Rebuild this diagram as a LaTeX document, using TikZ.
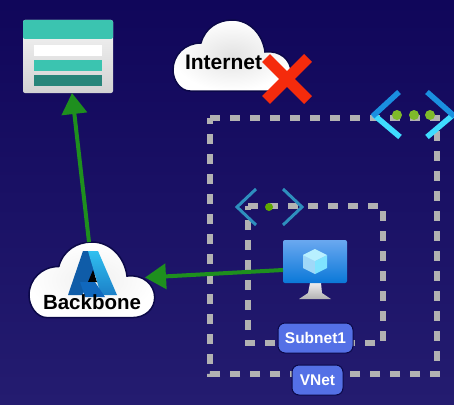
\documentclass[tikz,border=0pt]{standalone}
\usepackage{fontspec}
\setmainfont{Liberation Sans}
\usetikzlibrary{arrows.meta,calc}
\definecolor{bgtop}{HTML}{10065A}
\definecolor{bgbot}{HTML}{241C70}
\definecolor{dashgrey}{HTML}{B2B2B2}
\definecolor{arrowgreen}{HTML}{1E8F1E}
\definecolor{cloudedge}{HTML}{0B0848}
\definecolor{teal}{HTML}{3BC4B0}
\definecolor{darkteal}{HTML}{27857A}
\definecolor{pillblue}{HTML}{5470E6}
\definecolor{crossred}{HTML}{F52B0C}
\definecolor{subnetblue}{HTML}{2E8FBE}
\definecolor{chevdark}{HTML}{1A8FE0}
\definecolor{chevlight}{HTML}{3FDCFF}
\definecolor{dotlight}{HTML}{7FBA2A}
\definecolor{dotdark}{HTML}{5FA800}
\definecolor{azdark}{HTML}{0F5CA8}
\definecolor{azlight}{HTML}{30C0F0}
\definecolor{azmid}{HTML}{1C80C8}
\definecolor{azswoosh}{HTML}{1068BE}
\definecolor{vmtop}{HTML}{6AA8F0}
\definecolor{vmbot}{HTML}{0A78D8}
\definecolor{cubea}{HTML}{B8F0FF}
\definecolor{cubeb}{HTML}{7FE4FF}
\definecolor{cubec}{HTML}{9FD8F8}
\tikzset{
  netbox/.style={draw=dashgrey,line width=6pt,dash pattern=on 10pt off 10pt},
  flow/.style={draw=arrowgreen,line width=4pt,-{Triangle[length=21pt,width=25pt]}},
  pill/.style={draw=cloudedge,line width=1pt,fill=pillblue,rounded corners=7pt,text=white,
    font=\fontsize{15.5}{15.5}\selectfont\bfseries,inner sep=0pt,minimum height=30pt},
  cloudlabel/.style={text=black,font=\fontsize{21}{21}\selectfont\bfseries,inner sep=0pt},
  hitbox/.style={inner sep=0pt,outer sep=0pt},
  pics/cloudicon/.style={code={
    \shade[draw=cloudedge,line width=1.5pt,inner color=#1,outer color=white]
      (17,71) .. controls (7,71) and (0,60) .. (0,50)
      .. controls (0,35) and (12,23) .. (28,23)
      .. controls (32,8) and (45,0) .. (59,0)
      .. controls (77,0) and (90,15) .. (92,32)
      .. controls (107,30) and (118,40) .. (118,52)
      .. controls (118,63) and (109,71) .. (97,71) -- cycle;
  }},
  pics/cloudicon/.default={gray!22},
  chevA/.style={line width=5.5pt,line cap=butt},
  chevB/.style={line width=3pt,draw=subnetblue,line cap=butt,line join=miter},
}
\begin{document}
\begin{tikzpicture}[x=1pt,y=-1pt]
\useasboundingbox (0,0) rectangle (454,404);
\shade[top color=bgtop,bottom color=bgbot] (0,0) rectangle (454,404);

% dashed network boundaries
\draw[netbox] (210,118) -- (437,118) -- (437,374) -- (210,374) -- cycle;
\draw[netbox] (248,206) -- (383,206) -- (383,343) -- (248,343) -- cycle;

% storage
\node[hitbox,minimum width=90pt,minimum height=73pt] (storage) at (68,56.5) {};
\shade[top color=gray!8,bottom color=gray!35,rounded corners=2pt] (23,20) rectangle (113,93);
\fill[teal,rounded corners=2pt] (23,20) rectangle (113,39);
\fill[white] (34,45) rectangle (102,56);
\fill[teal] (34,60) rectangle (102,70.5);
\fill[darkteal] (34,75) rectangle (102,85.5);

% internet cloud
\pic at (173,20) {cloudicon};
\node[cloudlabel,anchor=center] (internet) at (223.5,62) {Internet};

% backbone cloud
\pic[scale=1.065] at (29,242) {cloudicon=gray!12};
\node[hitbox,minimum width=126pt,minimum height=75pt] (backbone) at (92,279.5) {};
\fill[azdark] (83,251) -- (92,251) -- (96,272) -- (82,295) -- (68,295) -- cycle;
\fill[black] (93,270) -- (97,282) -- (88,282) -- cycle;
\shade[top color=azlight,bottom color=azmid] (88,251) -- (98,251) -- (117,295) -- (101,295) -- (90,258) -- cycle;
\fill[azswoosh] (80,282) -- (95,282) -- (105,297) -- (85,297) -- cycle;
\node[cloudlabel,font=\fontsize{20.5}{20.5}\selectfont\bfseries,anchor=center] (bbtext) at (92,302) {Backbone};

% virtual machine
\node[hitbox,minimum width=64pt,minimum height=60pt] (vm) at (315,270) {};
\shade[top color=gray!15,bottom color=gray!60] (310,283) -- (321,283) -- (322,293) -- (331,299) -- (299,299) -- (308,293) -- cycle;
\shade[top color=vmtop,bottom color=vmbot,rounded corners=2pt] (283,240) rectangle (347,283);
\fill[cubec] (315,249) -- (303,255) -- (303,268) -- (315,274) -- (315,261) -- cycle;
\fill[cubeb] (315,261) -- (327,255) -- (327,268) -- (315,274) -- cycle;
\fill[cubea] (315,261) -- (303,255) -- (315,249) -- (327,255) -- cycle;

% connectors
\draw[flow] ($(backbone.north)+(-3,0)$) -- ($(storage.south)+(4,0)$);
\draw[flow] (vm.west) -- ($(backbone.east)+(-10,-2)$);

% VNet icon
\draw[chevA,draw=chevlight] (374,115) -- (400,137);
\draw[chevA,draw=chevdark,shorten >=-2pt] (399,92) -- (374,115);
\draw[chevA,draw=chevlight] (453,115) -- (427,137);
\draw[chevA,draw=chevdark,shorten >=-2pt] (427,92) -- (453,115);
\fill[dotlight] (397,115) circle (5pt) (414,115) circle (5pt) (430,115) circle (5pt);

% Subnet icon
\draw[chevB] (256,189) -- (237,207) -- (256,225);
\draw[chevB] (283,189) -- (302,207) -- (283,225);
\fill[dotdark] (269,207) circle (4pt);

% red cross
\draw[crossred,line width=11pt] (266,58) -- (308,100) (308,58) -- (266,100);

% labels
\node[pill,minimum width=75pt] (subnet) at (315.5,338) {Subnet1};
\node[pill,minimum width=51pt] (vnet) at (317.5,380) {VNet};
\end{tikzpicture}
\end{document}
